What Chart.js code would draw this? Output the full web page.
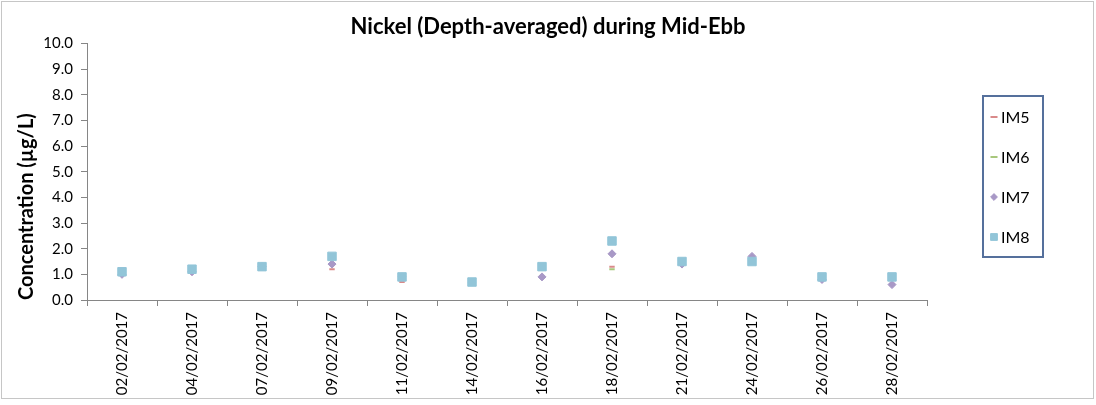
<!DOCTYPE html>
<html>
<head>
<meta charset="utf-8">
<title>Nickel (Depth-averaged) during Mid-Ebb</title>
<script src="https://cdn.jsdelivr.net/npm/chart.js@4/dist/chart.umd.min.js"></script>
<style>
  html, body { margin: 0; padding: 0; background: #fff; }
  canvas { display: block; }
</style>
</head>
<body>
<canvas id="chart" width="1096" height="405"></canvas>
<script>
  // sampling dates (category axis)
  const dates = ['02/02/2017', '04/02/2017', '07/02/2017', '09/02/2017', '11/02/2017', '14/02/2017',
                 '16/02/2017', '18/02/2017', '21/02/2017', '24/02/2017', '26/02/2017', '28/02/2017'];

  // depth-averaged nickel, ug/L
  const im5 = [1.0, 1.1, 1.2, 1.2, 0.7, 0.7, 0.9, 1.3, 1.5, 1.6, 0.9, 0.6];
  const im6 = [1.0, 1.1, 1.3, 1.4, 0.9, 0.7, 0.9, 1.2, 1.5, 1.7, 0.9, 0.6];
  const im7 = [1.0, 1.1, 1.3, 1.4, 0.9, 0.7, 0.9, 1.8, 1.4, 1.7, 0.8, 0.6];
  const im8 = [1.1, 1.2, 1.3, 1.7, 0.9, 0.7, 1.3, 2.3, 1.5, 1.5, 0.9, 0.9];

  const yMin = 0;
  const yMax = 10;
  const yStep = 1;

  Chart.defaults.font.family = 'Lato, "Open Sans", sans-serif';
  Chart.defaults.color = '#000';

  // outer frame of the chart
  const frame = {
    id: 'frame',
    beforeDraw(chart) {
      const ctx = chart.ctx;
      ctx.save();
      ctx.fillStyle = '#fff';
      ctx.fillRect(0, 0, chart.width, chart.height);
      ctx.strokeStyle = '#c6c6c6';
      ctx.lineWidth = 1;
      ctx.strokeRect(1.5, 1.5, chart.width - 4, chart.height - 8);
      ctx.restore();
    }
  };

  function marker(ctx, ds, x, y, scale) {
    const r = ds.pointRadius * scale;
    ctx.fillStyle = ds.backgroundColor;
    ctx.strokeStyle = ds.borderColor;
    ctx.lineWidth = ds.pointBorderWidth;
    if (Chart.helpers && Chart.helpers.drawPoint) {
      Chart.helpers.drawPoint(ctx, { pointStyle: ds.pointStyle, radius: r, borderWidth: ds.pointBorderWidth, rotation: 0 }, x, y);
      return;
    }
    ctx.beginPath();
    if (ds.pointStyle === 'line') {
      ctx.moveTo(x - r, y); ctx.lineTo(x + r, y); ctx.stroke();
    } else if (ds.pointStyle === 'rectRot') {
      ctx.moveTo(x, y - r); ctx.lineTo(x + r, y); ctx.lineTo(x, y + r); ctx.lineTo(x - r, y); ctx.closePath();
      ctx.fill(); ctx.stroke();
    } else {
      const s = r * Math.SQRT1_2;
      ctx.rect(x - s, y - s, 2 * s, 2 * s); ctx.fill(); ctx.stroke();
    }
  }

  // boxed legend on the right, like the spreadsheet one
  const legendScale = [1.3, 1.3, 0.85, 0.8];
  const boxLegend = {
    id: 'boxLegend',
    afterDraw(chart) {
      const ctx = chart.ctx;
      const x0 = chart.chartArea.right + 56;
      const y0 = 96;
      ctx.save();
      ctx.strokeStyle = '#55709c';
      ctx.lineWidth = 2;
      ctx.strokeRect(x0, y0, 60, 161);
      chart.data.datasets.forEach((ds, i) => {
        const cy = y0 + 21 + i * 40;
        marker(ctx, ds, x0 + 11, cy, legendScale[i]);
        ctx.fillStyle = '#000';
        ctx.font = '16px Lato';
        ctx.textBaseline = 'middle';
        ctx.fillText(ds.label, x0 + 18, cy + 1);
      });
      ctx.restore();
    }
  };

  const axisGrey = '#868686';

  new Chart(document.getElementById('chart'), {
    type: 'line',
    data: {
      labels: dates,
      datasets: [
        { label: 'IM5', data: im5, showLine: false, pointStyle: 'line', pointRadius: 2.7, pointBorderWidth: 2,
          borderColor: '#d98a8a', backgroundColor: '#d98a8a', order: 3 },
        { label: 'IM6', data: im6, showLine: false, pointStyle: 'line', pointRadius: 2.7, pointBorderWidth: 2,
          borderColor: '#a8c77c', backgroundColor: '#a8c77c', order: 2 },
        { label: 'IM7', data: im7, showLine: false, pointStyle: 'rectRot', pointRadius: 4, pointBorderWidth: 1,
          borderColor: '#a898c6', backgroundColor: '#a898c6', order: 1 },
        { label: 'IM8', data: im8, showLine: false, pointStyle: 'rect', pointRadius: 6, pointBorderWidth: 1,
          borderColor: '#92c5d8', backgroundColor: '#92c5d8', order: 0 }
      ]
    },
    options: {
      responsive: false,
      animation: false,
      events: [],
      layout: { padding: 0 },
      plugins: {
        legend: { display: false },
        tooltip: { enabled: false },
        title: {
          display: true,
          text: 'Nickel (Depth-averaged) during Mid-Ebb',
          font: { size: 22, weight: 'bold' },
          color: '#000',
          padding: { top: 14, bottom: 3 }
        }
      },
      scales: {
        x: {
          offset: true,
          grid: { drawOnChartArea: false, tickLength: 6, color: axisGrey, offset: true },
          border: { color: axisGrey },
          ticks: { autoSkip: false, minRotation: 90, maxRotation: 90, padding: 6, font: { size: 15 }, color: '#000' },
          afterFit: s => { s.height = 105; }
        },
        y: {
          min: yMin,
          max: yMax,
          grid: { drawOnChartArea: false, tickLength: 6, color: axisGrey },
          border: { color: axisGrey },
          ticks: { stepSize: yStep, padding: 8, font: { size: 15 }, color: '#000', callback: v => v.toFixed(1) },
          title: { display: true, text: 'Concentration (µg/L)', align: 'start', font: { size: 20, weight: 'bold' }, color: '#000', padding: { top: 15, bottom: 0 } },
          afterFit: s => { s.width = 87; }
        },
        // empty right-hand axis only keeps room for the legend
        yR: {
          position: 'right',
          grid: { display: false },
          border: { display: false },
          ticks: { display: false },
          afterFit: s => { s.width = 169; }
        }
      }
    },
    plugins: [frame, boxLegend]
  });
</script>
</body>
</html>
